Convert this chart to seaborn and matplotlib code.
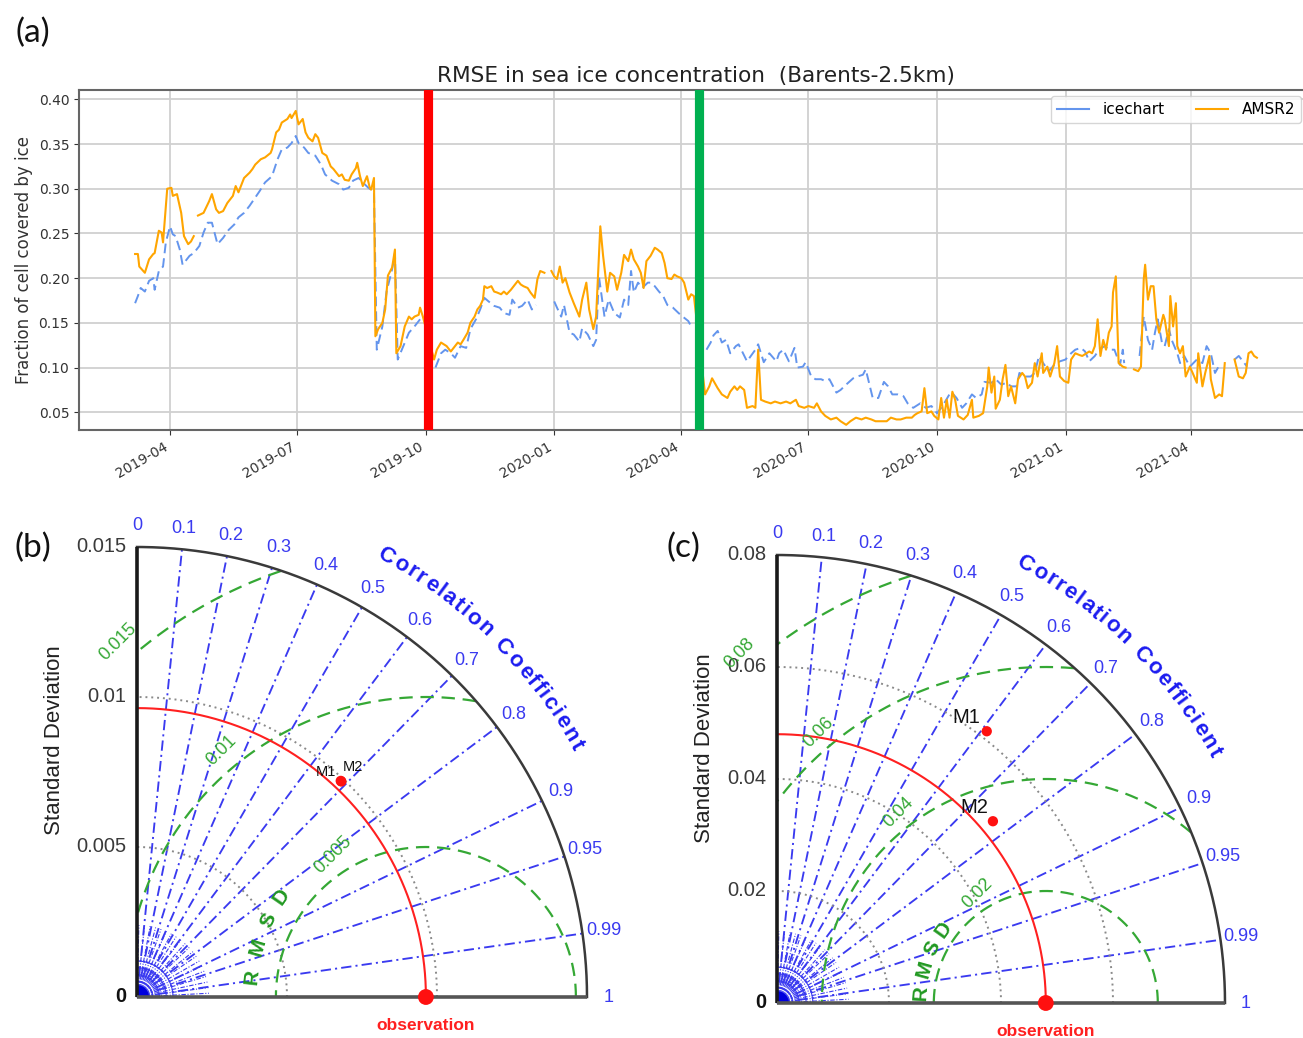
import numpy as np
import pandas as pd
import matplotlib
matplotlib.use("Agg")
import matplotlib.pyplot as plt
import matplotlib.dates as mdates
from matplotlib.lines import Line2D
from matplotlib.patches import Wedge
from matplotlib.font_manager import FontProperties
from matplotlib.textpath import TextToPath
import seaborn as sns

# ------------------------------------------------------------------ data (a)
BASE_DATE = "2019-03-01"          # day 0 of the day arrays below
N = None                           # gap (missing data)

amsr2_day = [6, 8, 9, 13, 16, 19, 20, 23, 25, 26, 29, 32, 33, 36, 39, 41, 44, 46, 48, 49,
             51, 55, 59, 61, 64, 66, 69, 72, 76, 78, 80, 84, 88, 90, 92, 96, 99, 103, 104, 107,
             109, 111, 115, 117, 118, 121, 123, 126, 128, 130, 133, 135, 137, 140, 143, 146, 148, 152, 154, 156,
             159, 161, 164, 165, 167, 169, 172, 174, 175, 177, 178, 180, 183, 185, 187, 190, 192, 193, 196, 199,
             202, 204, 206, 209, 210, 212, 220, 222, 225, 227, 229, 232, 234, 237, 239, 241, 244, 246, 249, 251,
             253, 255, 256, 258, 261, 263, 265, 268, 270, 272, 275, 277, 280, 282, 284, 287, 289, 292, 294, 296,
             299, 301, 304, 306, 308, 310, 312, 314, 317, 320, 324, 326, 329, 331, 334, 336, 339, 341, 344, 346,
             349, 351, 354, 356, 359, 361, 363, 366, 368, 370, 372, 375, 378, 380, 383, 385, 387, 390, 392, 394,
             397, 399, 402, 404, 406, 414, 417, 419, 423, 426, 430, 432, 435, 437, 439, 442, 444, 448, 450, 452,
             454, 457, 461, 464, 468, 472, 475, 479, 481, 485, 488, 492, 494, 497, 500, 504, 508, 511, 515, 518,
             522, 526, 529, 533, 536, 540, 544, 547, 551, 554, 558, 562, 564, 566, 569, 571, 573, 576, 578, 581,
             583, 585, 587, 589, 591, 593, 595, 599, 602, 605, 606, 610, 613, 616, 617, 619, 621, 622, 625, 627,
             629, 631, 633, 636, 638, 641, 643, 645, 648, 650, 652, 655, 656, 659, 661, 664, 666, 668, 671, 674,
             676, 679, 682, 684, 687, 689, 691, 693, 695, 697, 699, 701, 703, 705, 706, 708, 710, 713, 715, 718,
             721, 724, 726, 728, 729, 731, 733, 735, 737, 739, 742, 743, 746, 747, 749, 751, 752, 754, 756, 758,
             761, 763, 766, 767, 770, 772, 775, 776, 779, 782, 784, 786, 789, 793, 796, 799, 801, 803, 805, 807,
             809]
amsr2_val = [0.227, 0.227, 0.213, 0.206, 0.221, 0.227, 0.228, 0.253, 0.251, 0.240, 0.300, 0.301, 0.292, 0.294, 0.273, 0.247, 0.238, 0.241, 0.247, N,
             0.270, 0.273, 0.286, 0.294, 0.277, 0.273, 0.275, 0.284, 0.292, 0.303, 0.296, 0.312, 0.318, 0.322, 0.327, 0.333, 0.335, 0.340, 0.344, 0.363,
             0.366, 0.374, 0.378, 0.383, 0.379, 0.387, 0.372, 0.378, 0.363, 0.357, 0.353, 0.361, 0.357, 0.340, 0.337, 0.325, 0.322, 0.314, 0.316, 0.310,
             0.309, 0.316, 0.323, 0.329, 0.314, 0.303, 0.314, 0.301, 0.299, 0.312, 0.135, 0.143, 0.150, 0.165, 0.203, 0.212, 0.232, 0.116, 0.124, 0.146,
             0.157, 0.154, 0.157, 0.159, 0.167, 0.157, 0.109, 0.120, 0.128, 0.126, 0.124, 0.118, 0.122, 0.128, 0.126, 0.131, 0.139, 0.150, 0.157, 0.165,
             0.169, 0.176, 0.191, 0.189, 0.191, 0.185, 0.184, 0.182, 0.185, 0.182, 0.187, 0.191, 0.197, 0.193, 0.191, 0.189, 0.184, 0.178, 0.199, 0.208,
             0.206, N, 0.208, 0.202, 0.199, 0.213, 0.195, 0.200, 0.184, 0.172, 0.157, 0.176, 0.195, 0.165, 0.143, 0.157, 0.258, 0.225, 0.185, 0.206,
             0.202, 0.187, 0.206, 0.226, 0.219, 0.232, 0.221, 0.213, 0.206, 0.189, 0.219, 0.225, 0.234, 0.232, 0.228, 0.217, 0.200, 0.199, 0.204, 0.202,
             0.200, 0.195, 0.176, 0.182, 0.180, 0.070, 0.079, 0.088, 0.077, 0.070, 0.066, 0.073, 0.079, 0.075, 0.079, 0.075, 0.055, 0.057, 0.055, 0.120,
             0.064, 0.062, 0.060, 0.062, 0.060, 0.062, 0.060, 0.064, 0.057, 0.055, 0.057, 0.055, 0.060, 0.051, 0.046, 0.042, 0.044, 0.040, 0.036, 0.040,
             0.044, 0.042, 0.044, 0.042, 0.040, 0.040, 0.040, 0.044, 0.042, 0.042, 0.044, 0.044, 0.047, 0.049, 0.051, 0.077, 0.049, 0.051, 0.046, 0.042,
             0.066, 0.044, 0.064, 0.044, 0.073, 0.064, 0.046, 0.042, 0.047, 0.064, 0.044, 0.046, 0.049, 0.079, 0.100, 0.072, 0.090, 0.054, 0.064, 0.087,
             0.103, 0.068, 0.079, 0.060, 0.087, 0.094, 0.090, 0.077, 0.083, 0.105, 0.090, 0.116, 0.094, 0.101, 0.090, 0.105, 0.124, 0.090, 0.085, 0.083,
             0.109, 0.116, 0.114, 0.113, 0.116, 0.118, 0.116, 0.124, 0.154, 0.113, 0.131, 0.120, 0.139, 0.146, 0.184, 0.202, 0.105, 0.101, 0.100, N,
             0.098, 0.096, 0.101, 0.199, 0.215, 0.176, 0.191, 0.191, 0.154, 0.139, 0.159, 0.154, 0.124, 0.180, 0.146, 0.172, 0.124, 0.116, 0.124, 0.090,
             0.101, 0.094, 0.083, 0.116, 0.079, 0.094, 0.113, 0.087, 0.066, 0.070, 0.068, 0.105, N, 0.109, 0.090, 0.088, 0.094, 0.116, 0.118, 0.113,
             0.111]

ice_day = [6, 8, 10, 13, 16, 19, 20, 23, 26, 28, 31, 33, 35, 38, 40, 42, 45, 48, 52, 55,
           58, 61, 65, 69, 73, 77, 80, 84, 88, 95, 99, 104, 108, 111, 115, 118, 121, 123, 127, 130,
           135, 139, 142, 147, 152, 155, 159, 162, 166, 169, 173, 177, 179, 183, 186, 190, 192, 194, 198, 202,
           206, 210, 215, 221, 225, 228, 232, 235, 239, 243, 246, 250, 253, 256, 259, 263, 267, 270, 274, 276,
           280, 283, 287, 290, 293, 298, 306, 308, 311, 313, 317, 320, 324, 326, 330, 334, 336, 338, 342, 345,
           349, 353, 356, 359, 361, 363, 366, 369, 373, 375, 378, 381, 384, 387, 391, 395, 398, 402, 404, 410,
           415, 418, 420, 423, 426, 429, 432, 436, 438, 444, 450, 452, 456, 460, 465, 467, 470, 474, 478, 480,
           484, 486, 490, 493, 497, 500, 503, 508, 511, 515, 520, 523, 527, 529, 534, 538, 542, 545, 548, 552,
           556, 559, 563, 568, 572, 576, 580, 584, 590, 594, 598, 601, 605, 608, 612, 614, 619, 622, 626, 630,
           633, 637, 639, 643, 647, 650, 653, 656, 660, 664, 668, 672, 676, 679, 683, 686, 689, 693, 696, 700,
           703, 707, 711, 713, 714, 719, 725, 728, 731, 734, 736, 738, 741, 743, 746, 748, 752, 754, 757, 761,
           766, 770, 773, 776, 779, 783, 788, 793, 796, 800, 802]
ice_val = [0.172, 0.180, 0.189, 0.185, 0.197, 0.200, 0.187, 0.208, 0.213, 0.240, 0.258, 0.249, 0.247, 0.232, 0.215, 0.219, 0.225, 0.228, 0.236, 0.251,
           0.262, 0.262, 0.238, 0.245, 0.254, 0.260, 0.268, 0.273, 0.281, 0.297, 0.307, 0.314, 0.333, 0.344, 0.346, 0.351, 0.359, 0.351, 0.346, 0.340,
           0.337, 0.327, 0.316, 0.309, 0.305, 0.299, 0.301, 0.309, 0.312, 0.307, 0.301, 0.297, 0.120, 0.146, 0.185, 0.210, 0.228, 0.109, 0.124, 0.139,
           0.146, 0.154, N, 0.100, 0.116, 0.120, 0.116, 0.111, 0.124, 0.122, 0.143, 0.154, 0.165, 0.178, 0.174, 0.169, 0.167, 0.161, 0.159, 0.176,
           0.167, 0.169, 0.176, 0.165, 0.170, N, 0.174, 0.167, 0.157, 0.170, 0.139, 0.137, 0.129, 0.144, 0.137, 0.124, 0.131, 0.202, 0.157, 0.176,
           0.161, 0.156, 0.176, 0.170, 0.208, 0.184, 0.195, 0.189, 0.195, 0.195, 0.191, 0.185, 0.180, 0.170, 0.167, 0.161, 0.157, 0.152, 0.146, N,
           0.120, 0.128, 0.136, 0.141, 0.128, 0.131, 0.116, 0.124, 0.126, 0.107, 0.120, 0.126, 0.106, 0.116, 0.107, 0.116, 0.120, 0.107, 0.122, 0.100,
           0.101, 0.106, 0.090, 0.087, 0.087, 0.085, 0.087, 0.072, 0.075, 0.081, 0.088, 0.090, 0.092, 0.098, 0.066, 0.066, 0.084, 0.079, 0.070, 0.070,
           0.068, 0.060, 0.055, 0.060, 0.055, 0.057, 0.049, 0.057, 0.073, 0.066, 0.055, 0.060, 0.070, 0.066, 0.070, 0.084, 0.083, 0.087, 0.081, 0.083,
           0.079, 0.079, 0.094, 0.090, 0.090, 0.094, 0.113, 0.105, 0.096, 0.103, 0.107, 0.109, 0.116, 0.120, 0.122, 0.118, 0.107, 0.113, 0.120, 0.124,
           0.120, 0.120, 0.103, 0.120, 0.105, N, 0.113, 0.157, 0.131, 0.120, 0.139, 0.154, 0.128, 0.124, 0.143, 0.131, 0.116, 0.105, 0.113, 0.101,
           0.109, 0.105, 0.124, 0.116, 0.094, 0.105, N, 0.109, 0.113, 0.105, 0.101]

event_dates = ["2019-10-03", "2020-04-14"]
series_names = ["icechart", "AMSR2"]
title_a = "RMSE in sea ice concentration  (Barents-2.5km)"
ylabel_a = "Fraction of cell covered by ice"
yticks_a = [0.05, 0.10, 0.15, 0.20, 0.25, 0.30, 0.35, 0.40]

# ------------------------------------------------------------------ data (b), (c)
corr_ticks = [0, 0.1, 0.2, 0.3, 0.4, 0.5, 0.6, 0.7, 0.8, 0.9, 0.95, 0.99, 1]
corr_tick_labels = ["0", "0.1", "0.2", "0.3", "0.4", "0.5", "0.6", "0.7", "0.8", "0.9", "0.95", "0.99", "1"]
model_names = ["M1", "M2"]

b_std_max = 0.015
b_std_ticks = [0, 0.005, 0.01, 0.015]
b_std_labels = ["0", "0.005", "0.01", "0.015"]
b_obs_std = 0.00963
b_model_std = [0.0099, 0.0099]
b_model_corr = [0.686, 0.688]
b_rmsd_levels = [0.005, 0.01, 0.015]
b_rmsd_labels = ["0.005", "0.01", "0.015"]

c_std_max = 0.08
c_std_ticks = [0, 0.02, 0.04, 0.06, 0.08]
c_std_labels = ["0", "0.02", "0.04", "0.06", "0.08"]
c_obs_std = 0.048
c_model_std = [0.0613, 0.0504]
c_model_corr = [0.611, 0.765]
c_rmsd_levels = [0.02, 0.04, 0.06, 0.08]
c_rmsd_labels = ["0.02", "0.04", "0.06", "0.08"]

# ------------------------------------------------------------------ figure
W, H = 1303, 1038
fig = plt.figure(figsize=(W / 100, H / 100), dpi=100)
fig.patch.set_facecolor("white")

BLUE_TS = "#6495ED"
ORANGE_TS = "#FFA500"


def to_frame(days, vals):
    d = np.array(days, dtype=float)
    v = np.array([np.nan if x is None else x for x in vals], dtype=float)
    seg = np.cumsum(np.isnan(v))
    m = ~np.isnan(v)
    return pd.DataFrame({
        "date": pd.Timestamp(BASE_DATE) + pd.to_timedelta(d[m], unit="D"),
        "value": v[m],
        "seg": seg[m],
    })


ice_df = to_frame(ice_day, ice_val)
amsr_df = to_frame(amsr2_day, amsr2_val)

# axes (a) extends slightly past the right border of the picture, as in the reference
ax = fig.add_axes([79 / W, 1 - 430 / H, 1234 / W, 340 / H])
ax.set_axisbelow(True)
ax.grid(True, color="#d0d0d0", lw=1.3)
sns.lineplot(data=ice_df, x="date", y="value", units="seg", estimator=None, sort=False,
             color=BLUE_TS, lw=1.4, linestyle=(0, (5, 2.6)), ax=ax, legend=False)
sns.lineplot(data=amsr_df, x="date", y="value", units="seg", estimator=None, sort=False,
             color=ORANGE_TS, lw=1.5, ax=ax, legend=False)
for dte, col in zip(event_dates, ["#FF0000", "#00B050"]):
    ax.axvline(pd.Timestamp(dte), color=col, lw=6.6, zorder=5)

ax.set_ylim(0.0302, 0.4104)
ax.set_yticks(yticks_a)
ax.yaxis.set_major_formatter(matplotlib.ticker.FormatStrFormatter("%.2f"))
ax.xaxis.set_major_locator(mdates.MonthLocator(bymonth=(1, 4, 7, 10)))
ax.xaxis.set_major_formatter(mdates.DateFormatter("%Y-%m"))
ax.tick_params(axis="x", labelsize=10, colors="#333333", labelrotation=30)
ax.tick_params(axis="y", labelsize=10, colors="#333333")
for lab in ax.get_xticklabels():
    lab.set_ha("right")
ax.set_xlabel("")
ax.set_ylabel(ylabel_a, fontsize=12, color="#333333")
ax.set_title(title_a, fontsize=15.6, color="#222222", pad=6)
for sp in ax.spines.values():
    sp.set_color("#666666")
    sp.set_linewidth(1.5)
handles = [Line2D([], [], color=BLUE_TS, lw=1.5), Line2D([], [], color=ORANGE_TS, lw=1.5)]
ax.legend(handles, series_names, ncol=2, loc="upper right", fontsize=11,
          bbox_to_anchor=(1301 / W, 1 - 96 / H), bbox_transform=fig.transFigure,
          borderaxespad=0, columnspacing=2.0, handletextpad=0.9, handlelength=2.1)

# ------------------------------------------------------------------ Taylor diagrams
TFONT = "Liberation Sans"
CBLUE = "#3a3af0"
CGREEN = "#35a835"
_ttp = TextToPath()


def char_width(ch, fp):
    if ch == " ":
        return 0.3 * fp.get_size_in_points()
    w, h, d = _ttp.get_text_width_height_descent(ch, fp, ismath=False)
    return w


def curved_text(ax, text, cx, cy, r, a0, a1, fp, color):
    widths = np.array([char_width(ch, fp) for ch in text])
    centers = np.cumsum(widths) - widths / 2
    t = (centers - centers[0]) / (centers[-1] - centers[0])
    angs = a0 + t * (a1 - a0)
    for ch, a in zip(text, angs):
        if ch == " ":
            continue
        ar = np.radians(a)
        ax.text(cx + r * np.cos(ar), cy + r * np.sin(ar), ch, rotation=a - 90,
                rotation_mode="anchor", ha="center", va="baseline",
                fontproperties=fp, color=color)


def taylor(region, origin, R_px, std_max, std_ticks, std_labels, obs, mstd, mcorr,
           rmsd_levels, rmsd_labels, rmsd_label_angles, rmsd_label_off_px,
           word_angles, word_r_px, name_offsets_px, name_fs, ylabel_dx_px):
    x0, y0, x1, y1 = region
    ox, oy = origin
    k = R_px / std_max
    px = 1.0 / k
    a = fig.add_axes([x0 / W, 1 - y1 / H, (x1 - x0) / W, (y1 - y0) / H])
    a.axis("off")
    R = std_max
    th = np.linspace(0, np.pi / 2, 400)

    # dense fan and rings near the origin
    for ang in np.arange(3, 90, 4.5):
        ar = np.radians(ang)
        a.plot([0, 0.16 * R * np.cos(ar)], [0, 0.16 * R * np.sin(ar)], color=CBLUE,
               lw=0.8, ls=(0, (4, 1.5, 1, 1.5)), zorder=1)
    for rr in [0.035, 0.05, 0.065, 0.08]:
        a.plot(rr * R * np.cos(th), rr * R * np.sin(th), color=CBLUE, lw=0.8, zorder=1)
    a.add_patch(Wedge((0, 0), 0.025 * R, 0, 90, color="#0000dd", zorder=2))

    # correlation spokes
    for c in corr_ticks[1:-1]:
        ar = np.arccos(c)
        a.plot([0, R * np.cos(ar)], [0, R * np.sin(ar)], color=CBLUE, lw=1.35,
               ls=(0, (5.5, 2.2, 1.1, 2.2)), zorder=1)
    # std dotted arcs
    for s in std_ticks[1:-1]:
        a.plot(s * np.cos(th), s * np.sin(th), color="#8a8a8a", lw=1.4, ls=(0, (1, 2)), zorder=2)
    # RMSD arcs
    ph = np.linspace(0, np.pi, 800)
    for r in rmsd_levels:
        xs = obs + r * np.cos(ph)
        ys = r * np.sin(ph)
        bad = (xs < 0) | (np.hypot(xs, ys) > R)
        xs = np.where(bad, np.nan, xs)
        ys = np.where(bad, np.nan, ys)
        a.plot(xs, ys, color=CGREEN, lw=1.6, ls=(0, (6, 3.5)), zorder=2)
    # observation std arc
    a.plot(obs * np.cos(th), obs * np.sin(th), color="#ff2020", lw=1.5, zorder=3)
    # frame
    a.plot(R * np.cos(th), R * np.sin(th), color="#3a3a3a", lw=1.8, zorder=4)
    a.plot([0, 0], [0, R], color="#1a1a1a", lw=2.6, zorder=4, solid_capstyle="butt")
    a.plot([0, R], [0, 0], color="#555555", lw=2.6, zorder=4, solid_capstyle="butt")

    # points
    mx = [s * c for s, c in zip(mstd, mcorr)]
    my = [s * np.sqrt(1 - c * c) for s, c in zip(mstd, mcorr)]
    sns.scatterplot(x=[obs], y=[0.0], ax=a, color="#ff1010", s=130, edgecolor="none",
                    zorder=7, clip_on=False, legend=False)
    sns.scatterplot(x=mx, y=my, ax=a, color="#ff1010", s=55, edgecolor="none",
                    zorder=7, clip_on=False, legend=False)
    for name, x, y, (dx, dy) in zip(model_names, mx, my, name_offsets_px):
        a.annotate(name, (x, y), xytext=(dx * 0.72, dy * 0.72), textcoords="offset points",
                   ha="center", va="center", fontsize=name_fs, family=TFONT, color="#111111", zorder=8)
    a.text(obs, -28 * px, "observation", ha="center", va="center", fontsize=12.5,
           fontweight="bold", family=TFONT, color="#ff2020")

    # std tick labels & axis label
    for s, lab in zip(std_ticks, std_labels):
        a.text(-11 * px, s, lab, ha="right", va="center", fontsize=14.5, family=TFONT,
               color="#111111" if s == 0 else "#3a3a3a",
               fontweight="bold" if s == 0 else "normal")
    a.text(ylabel_dx_px * px, 0.57 * R, "Standard Deviation", rotation=90, ha="center",
           va="center", fontsize=16, family=TFONT, color="#222222")

    # correlation tick labels
    for c, lab in zip(corr_ticks, corr_tick_labels):
        ar = np.arccos(c)
        a.text(1.047 * R * np.cos(ar), 1.047 * R * np.sin(ar), lab, ha="center", va="center",
               fontsize=13, family=TFONT, color=CBLUE)
    fp_cc = FontProperties(family=TFONT, weight="bold", size=16)
    curved_text(a, "Correlation Coefficient", 0, 0, 1.113 * R, 60.6, 29.8, fp_cc, "#1c1cf0")

    # RMSD labels
    for r, lab, ang in zip(rmsd_levels, rmsd_labels, rmsd_label_angles):
        ar = np.radians(ang)
        rr = r + rmsd_label_off_px * px
        a.text(obs + rr * np.cos(ar), rr * np.sin(ar), lab, rotation=45, ha="center",
               va="center", fontsize=13, family=TFONT, color=CGREEN, rotation_mode="anchor")
    fp_r = FontProperties(family=TFONT, weight="bold", size=15)
    curved_text(a, "RMSD", obs, 0, word_r_px * px, word_angles[0], word_angles[1], fp_r, "#229922")

    a.set_xlim((x0 - ox) * px, (x1 - ox) * px)
    a.set_ylim((oy - y1) * px, (oy - y0) * px)
    return a


taylor(region=(0, 500, 650, 1038), origin=(137, 997), R_px=450,
       std_max=b_std_max, std_ticks=b_std_ticks, std_labels=b_std_labels, obs=b_obs_std,
       mstd=b_model_std, mcorr=b_model_corr, rmsd_levels=b_rmsd_levels, rmsd_labels=b_rmsd_labels,
       rmsd_label_angles=[123, 129.7, 131], rmsd_label_off_px=20,
       word_angles=(173.4, 145.2), word_r_px=170, name_offsets_px=[(-15, 9), (12, 14)],
       name_fs=10.5, ylabel_dx_px=-82)

taylor(region=(650, 500, 1303, 1038), origin=(777, 1003), R_px=448,
       std_max=c_std_max, std_ticks=c_std_ticks, std_labels=c_std_labels, obs=c_obs_std,
       mstd=c_model_std, mcorr=c_model_corr, rmsd_levels=c_rmsd_levels, rmsd_labels=c_rmsd_labels,
       rmsd_label_angles=[122, 127.7, 130, 131.2], rmsd_label_off_px=17,
       word_angles=(175.4, 144.5), word_r_px=120, name_offsets_px=[(-20, 14), (-19, 14)],
       name_fs=14.5, ylabel_dx_px=-72)

# panel letters
for lab, (x, y) in zip(["(a)", "(b)", "(c)"], [(33, 33), (33, 548), (683, 548)]):
    fig.text(x / W, 1 - y / H, lab, ha="center", va="center", fontsize=24, family="Lato",
             color="#111111")

fig.savefig("out.png", dpi=100, facecolor="white")
